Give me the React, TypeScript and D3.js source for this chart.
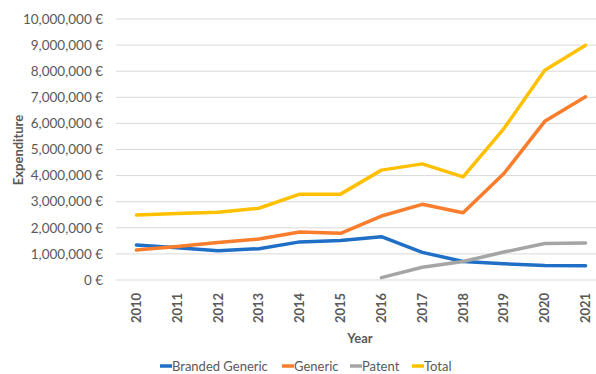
import React from "react";
import * as d3 from "d3";

const years = ["2010","2011","2012","2013","2014","2015","2016","2017","2018","2019","2020","2021"];
const brandedGeneric = [1.34,1.24,1.12,1.2,1.46,1.51,1.66,1.06,0.71,0.62,0.56,0.55];
const generic = [1.15,1.28,1.44,1.57,1.84,1.79,2.45,2.9,2.58,4.08,6.08,7.02];
const patent: (number|null)[] = [null,null,null,null,null,null,0.09,0.49,0.71,1.07,1.4,1.42];
const total = [2.49,2.55,2.6,2.75,3.29,3.29,4.21,4.45,3.95,5.8,8.04,8.99];
const yTicks = [0,1,2,3,4,5,6,7,8,9,10];

const seriesNames = ["Branded Generic","Generic","Patent","Total"];
const seriesColors = ["#1f6fc6","#f97d2c","#a5a5a5","#ffc000"];

export default function App() {
  const W = 596, H = 374;
  const left = 116, right = 606, top = 19, bottom = 280;
  const x = d3.scaleBand<string>().domain(years).range([left, right]);
  const y = d3.scaleLinear().domain([0, 10]).range([bottom, top]);
  const cx = (d: string) => (x(d) as number) + x.bandwidth() / 2;
  const fmt = (v: number) => (v === 0 ? "0" : d3.format(",")(v * 1000000)) + " €";
  const data = [brandedGeneric, generic, patent, total];
  const line = d3.line<[string, number | null]>()
    .defined(d => d[1] !== null)
    .x(d => cx(d[0]))
    .y(d => y(d[1] as number))
    .curve(d3.curveLinear);
  const font = "Lato, 'Open Sans', sans-serif";
  const legendX = [160, 282, 350, 412];
  return (
    <svg width={W} height={H} style={{ position: "absolute", left: 0, top: 0, background: "#fff" }} fontFamily={font}>
      {yTicks.map(t => (
        <g key={t}>
          <line x1={left} x2={W} y1={y(t)} y2={y(t)} stroke="#d9d9d9" strokeWidth={1} />
          <text x={103} y={y(t)} dy="0.35em" textAnchor="end" fontSize={13.5} fill="#595959">{fmt(t)}</text>
        </g>
      ))}
      {years.map(yr => (
        <text key={yr} transform={`translate(${cx(yr)},${323}) rotate(-90)`} dy="0.35em" fontSize={13} fontWeight={700} fill="#595959">{yr}</text>
      ))}
      <text transform="translate(18,150) rotate(-90)" textAnchor="middle" dy="0.35em" fontSize={13} fontWeight={700} fill="#595959">Expenditure</text>
      <text x={360} y={338} textAnchor="middle" dy="0.35em" fontSize={13} fontWeight={700} fill="#595959">Year</text>
      {data.map((s, i) => (
        <path key={i} d={line(years.map((yr, j) => [yr, s[j]] as [string, number | null])) || ""} fill="none" stroke={seriesColors[i]} strokeWidth={3.5} strokeLinecap="round" strokeLinejoin="round" />
      ))}
      {seriesNames.map((n, i) => (
        <g key={n}>
          <line x1={legendX[i]} x2={legendX[i] + 12} y1={366} y2={366} stroke={seriesColors[i]} strokeWidth={3.5} />
          <text x={legendX[i] + 12} y={366} dy="0.35em" fontSize={13} fill="#595959">{n}</text>
        </g>
      ))}
    </svg>
  );
}
